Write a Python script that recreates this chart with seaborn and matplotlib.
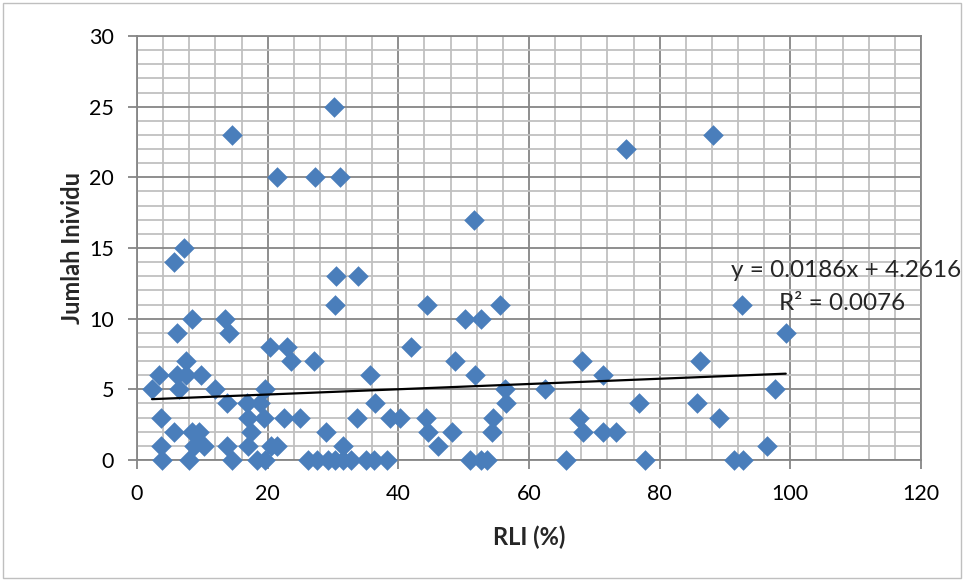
import numpy as np
import pandas as pd
import matplotlib
matplotlib.use("Agg")
import matplotlib.pyplot as plt
from matplotlib.ticker import MultipleLocator
from matplotlib.patches import Rectangle
import seaborn as sns

# ---- data ----
rli = [
    30.2,
    14.5, 88.2,
    74.8,
    21.5, 27.3, 31.0,
    51.6,
    7.2,
    5.7,
    30.4, 33.8,
    30.3, 44.4, 55.5, 92.6,
    8.4, 13.4, 50.2, 52.7,
    6.1, 14.1, 99.3,
    20.3, 22.9, 42.0,
    7.5, 23.5, 27.1, 48.6, 68.1, 86.2,
    3.3, 6.1, 7.5, 9.8, 35.6, 51.7, 71.4,
    2.3, 6.4, 11.9, 19.6, 56.4, 62.5, 97.6,
    13.7, 16.8, 18.8, 36.4, 56.5, 76.8, 85.7,
    3.6, 17.0, 19.4, 22.5, 25.0, 33.6, 38.7, 40.3, 44.3, 54.5, 67.6, 89.1,
    5.7, 8.4, 9.5, 17.5, 29.0, 44.5, 48.2, 54.4, 68.3, 71.4, 73.3,
    3.7, 8.7, 10.2, 13.7, 17.0, 20.5, 21.5, 31.5, 46.0, 96.5,
    3.8, 8.0, 14.5, 18.3, 19.6, 26.2, 27.6, 29.3, 30.3, 31.5, 32.8, 35.1,
    36.3, 38.2, 51.0, 52.7, 53.5, 65.6, 77.8, 91.4, 92.7,
]
individu = (
    [25] + [23] * 2 + [22] + [20] * 3 + [17] + [15] + [14] + [13] * 2
    + [11] * 4 + [10] * 4 + [9] * 3 + [8] * 3 + [7] * 6 + [6] * 7
    + [5] * 7 + [4] * 7 + [3] * 12 + [2] * 11 + [1] * 10 + [0] * 21
)

slope = 0.0186
intercept = 4.2616
eq_label = "y = 0.0186x + 4.2616"
r2_label = "R\u00b2 = 0.0076"
x_label = "RLI (%)"
y_label = "Jumlah Inividu"

df = pd.DataFrame({"RLI": rli, "Individu": individu})
trend_x = [min(rli), max(rli)]
trend = pd.DataFrame({"x": trend_x, "y": [slope * v + intercept for v in trend_x]})

# ---- style ----
sns.set_theme(style="white")
plt.rcParams["font.family"] = ["Lato", "DejaVu Sans"]

fig = plt.figure(figsize=(9.65, 5.81), dpi=100)
ax = fig.add_axes([137 / 965, 1 - 460 / 581, (921 - 137) / 965, (460 - 36) / 581])

sns.scatterplot(data=df, x="RLI", y="Individu", ax=ax, marker="D", s=110,
                color="#4A7EBB", linewidth=0, zorder=3, clip_on=False)
sns.lineplot(data=trend, x="x", y="y", ax=ax, color="black", linewidth=1.6, zorder=4)

ax.set_xlim(0, 120)
ax.set_ylim(0, 30)
ax.xaxis.set_major_locator(MultipleLocator(20))
ax.xaxis.set_minor_locator(MultipleLocator(4))
ax.yaxis.set_major_locator(MultipleLocator(5))
ax.yaxis.set_minor_locator(MultipleLocator(1))

ax.grid(which="minor", color="#c0c0c0", linewidth=1.3, zorder=0)
ax.grid(which="major", color="#868686", linewidth=1.3, zorder=1)
ax.set_axisbelow(True)

for sp in ax.spines.values():
    sp.set_color("#868686")
    sp.set_linewidth(1.3)

ax.tick_params(which="major", direction="out", length=6.5, width=1.3, color="#868686",
               labelsize=15.5, labelcolor="black", bottom=True, left=True)
ax.tick_params(axis="x", pad=11)
ax.tick_params(axis="y", pad=10)
ax.tick_params(which="minor", length=0)

ax.set_xlabel(x_label, fontsize=17, fontweight="bold", labelpad=15)
ax.set_ylabel(y_label, fontsize=17, fontweight="bold", labelpad=4)

ax.text(108.5, 13.4, eq_label, ha="center", va="center", fontsize=17.5, clip_on=False, zorder=5)
ax.text(107.9, 11.05, r2_label, ha="center", va="center", fontsize=17.5, clip_on=False, zorder=5)

fig.patches.append(Rectangle((3 / 965, 3 / 581), 958 / 965, 575 / 581, transform=fig.transFigure,
                             fill=False, edgecolor="#bfbfbf", linewidth=1))

fig.savefig("out.png", dpi=100)
